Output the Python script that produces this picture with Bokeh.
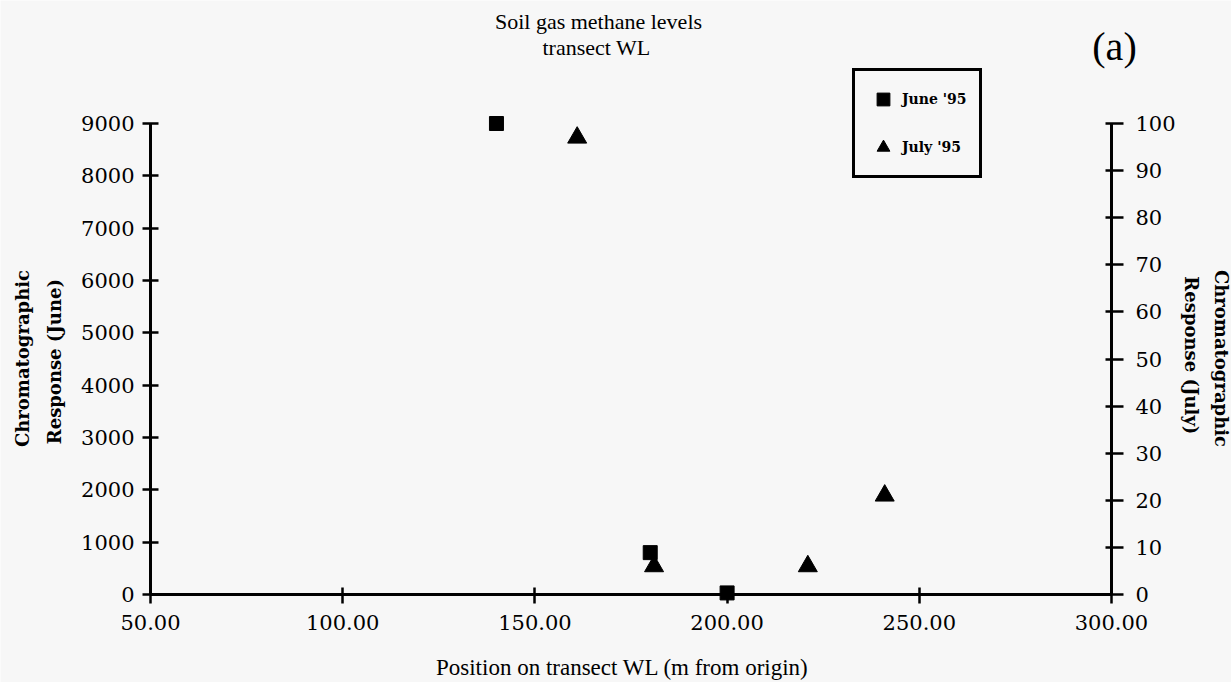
import math
from bokeh.plotting import figure
from bokeh.models import (Range1d, LinearAxis, FixedTicker, NumeralTickFormatter,
                          Label, Legend, LegendItem)
from bokeh.embed import file_html
from bokeh.resources import INLINE

# ---- data ----
june_x = [140, 180, 200]
june_y = [9000, 800, 30]
july_x = [161, 181, 221, 241]
july_y = [97, 6, 6, 21]
x_ticks = [50, 100, 150, 200, 250, 300]
left_ticks = [0, 1000, 2000, 3000, 4000, 5000, 6000, 7000, 8000, 9000]
right_ticks = [0, 10, 20, 30, 40, 50, 60, 70, 80, 90, 100]
title_lines = ["Soil gas methane levels", "transect WL"]

# ---- geometry (canvas pixels) ----
W, H = 1231, 682
XL, XR = 150, 1111      # canvas x of 50 and 300
Y0, Y9 = 594, 123       # canvas y of 0 and 9000
xk = (XR - XL) / 250.0
k = (Y0 - Y9) / 9000.0
x_start = 50 - XL / xk
x_end = 300 + (W - XR) / xk
y_start = -(H - Y0) / k
y_end = 9000 + Y9 / k


def dx(px):
    return 50 + (px - XL) / xk


def dy(py):
    return (Y0 - py) / k


BG = "#f7f7f7"
SERIF = "Liberation Serif"
TICKFONT = "DejaVu Serif"

p = figure(width=W, height=H, x_range=Range1d(x_start, x_end), y_range=Range1d(y_start, y_end),
           output_backend="svg", toolbar_location=None, title=None,
           x_axis_type=None, y_axis_type=None, min_border=0)
p.background_fill_color = BG
p.border_fill_color = BG
p.outline_line_color = None
p.extra_y_ranges = {"july": Range1d(y_start / 90.0, y_end / 90.0)}


def style_axis(ax, tin, tout, standoff):
    ax.axis_line_width = 3
    ax.axis_line_color = "black"
    ax.major_tick_line_width = 2.5
    ax.major_tick_line_color = "black"
    ax.major_tick_in = tin
    ax.major_tick_out = tout
    ax.minor_tick_line_color = None
    ax.major_label_text_font = TICKFONT
    ax.major_label_text_font_size = "21px"
    ax.major_label_text_color = "black"
    ax.major_label_standoff = standoff


xaxis = LinearAxis(ticker=FixedTicker(ticks=x_ticks), bounds=(50, 300),
                   formatter=NumeralTickFormatter(format="0.00"), fixed_location=0)
style_axis(xaxis, 7, 9, 11)
p.add_layout(xaxis, "below")

laxis = LinearAxis(ticker=FixedTicker(ticks=left_ticks), bounds=(0, 9000), fixed_location=50)
style_axis(laxis, 8, 8, 8)
p.add_layout(laxis, "left")

raxis = LinearAxis(ticker=FixedTicker(ticks=right_ticks), y_range_name="july",
                   bounds=(0, 100), fixed_location=300)
style_axis(raxis, 6, 12, 12)
p.add_layout(raxis, "right")

r1 = p.scatter(june_x, june_y, marker="square", size=14, color="black")
r2 = p.scatter(july_x, july_y, marker="triangle", size=19, color="black", y_range_name="july")

legend = Legend(items=[LegendItem(label="June '95", renderers=[r1]),
                       LegendItem(label="July '95", renderers=[r2])],
                location=(852, H - 178))
legend.border_line_color = "black"
legend.border_line_alpha = 1
legend.border_line_width = 3
legend.background_fill_color = BG
legend.background_fill_alpha = 1
legend.label_text_font = TICKFONT
legend.label_text_font_style = "bold"
legend.label_text_font_size = "14px"
legend.label_text_color = "black"
legend.padding = 12
legend.spacing = 16
legend.glyph_width = 32
legend.glyph_height = 32
legend.label_standoff = 3
legend.margin = 0
p.add_layout(legend)


def add_text(txt, px, py, size, font=SERIF, angle=0.0, bold=False):
    p.add_layout(Label(x=dx(px), y=dy(py), text=txt, angle=angle, text_align="center",
                       text_baseline="middle", text_font=font, text_font_size=size,
                       text_color="black", text_font_style="bold" if bold else "normal"))


# titles
add_text(title_lines[0], 598, 21, "22px")
add_text(title_lines[1], 596, 47, "22px")
add_text("(a)", 1114, 46, "40px")

# x axis title
add_text("Position on transect WL (m from origin)", 622, 667, "23px")

# y axis titles
add_text("Chromatographic", 22, 358, "18px", TICKFONT, math.pi / 2, True)
add_text("Response  (June)", 54, 358, "18px", TICKFONT, math.pi / 2, True)
add_text("Chromatographic", 1221, 358, "18px", TICKFONT, -math.pi / 2, True)
add_text("Response  (July)", 1191, 358, "18px", TICKFONT, -math.pi / 2, True)

open("out.html", "w").write(file_html(p, INLINE))
